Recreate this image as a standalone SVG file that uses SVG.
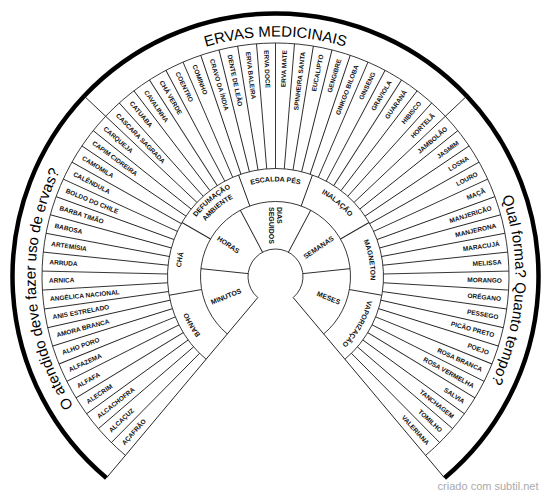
<svg xmlns="http://www.w3.org/2000/svg" xmlns:xlink="http://www.w3.org/1999/xlink" width="550" height="498" viewBox="0 0 550 498">
<style>
.ln{stroke:#222;stroke-width:0.9;fill:none}
.blk{stroke:#000;stroke-width:4.5;fill:none}
.h{font-family:"Liberation Sans",Arial,sans-serif;font-weight:bold;font-size:6.5px;fill:#111}
.e{text-anchor:end}
.m{font-family:"Liberation Sans",Arial,sans-serif;font-weight:bold;font-size:7px;fill:#111;text-anchor:middle}
.t{font-family:"Liberation Sans",Arial,sans-serif;font-weight:bold;font-size:7px;fill:#111}
.q{font-family:"Liberation Sans",Arial,sans-serif;font-size:15px;fill:#000;text-anchor:middle}
</style>
<defs>
<line id="hs" x1="383.5" y1="276.5" x2="509" y2="276.5"/>
<line id="hl" x1="383.5" y1="276.5" x2="538.5" y2="276.5"/>
<line id="ts" x1="303" y1="276.5" x2="350.5" y2="276.5"/>
<line id="ms" x1="350.5" y1="276.5" x2="383.5" y2="276.5"/>
<line id="ed" x1="303" y1="276.5" x2="538.5" y2="276.5"/>
<path id="p95" d="M214.435,349.274 A95,95 0 1 1 336.565,349.274"/>
<path id="p99" d="M211.864,352.338 A99,99 0 1 1 339.136,352.338"/>
<path id="p89" d="M218.292,344.678 A89,89 0 1 1 332.708,344.678"/>
<path id="p240" d="M121.231,460.351 A240,240 0 1 1 429.769,460.351"/>
</defs>
<rect width="550" height="498" fill="#fff"/>
<g id="rings" class="ln">
<path d="M257.823,297.566 A27.5,27.5 0 1 1 293.177,297.566"/>
<path d="M227.291,333.953 A75,75 0 1 1 323.709,333.953"/>
<path d="M206.079,359.233 A108,108 0 1 1 344.921,359.233"/>
<path d="M125.409,455.371 A233.5,233.5 0 1 1 425.591,455.371"/>
</g>
<path id="outer" class="blk" d="M106.447,477.970 A263,263 0 1 1 444.553,477.970"/>
<g id="connectors" class="ln">
<use xlink:href="#ed" transform="rotate(130 275.5 276.5)"/>
<use xlink:href="#ed" transform="rotate(50 275.5 276.5)"/>
<use xlink:href="#ts" transform="rotate(186 275.5 276.5)"/>
<use xlink:href="#ts" transform="rotate(242 275.5 276.5)"/>
<use xlink:href="#ts" transform="rotate(298 275.5 276.5)"/>
<use xlink:href="#ts" transform="rotate(354 275.5 276.5)"/>
<use xlink:href="#ms" transform="rotate(170 275.5 276.5)"/>
<use xlink:href="#ms" transform="rotate(210 275.5 276.5)"/>
<use xlink:href="#ms" transform="rotate(250 275.5 276.5)"/>
<use xlink:href="#ms" transform="rotate(290 275.5 276.5)"/>
<use xlink:href="#ms" transform="rotate(330 275.5 276.5)"/>
<use xlink:href="#ms" transform="rotate(370 275.5 276.5)"/>
<use xlink:href="#hs" transform="rotate(134.667 275.5 276.5)"/>
<use xlink:href="#hs" transform="rotate(139.333 275.5 276.5)"/>
<use xlink:href="#hs" transform="rotate(144 275.5 276.5)"/>
<use xlink:href="#hs" transform="rotate(148.667 275.5 276.5)"/>
<use xlink:href="#hs" transform="rotate(153.333 275.5 276.5)"/>
<use xlink:href="#hs" transform="rotate(158 275.5 276.5)"/>
<use xlink:href="#hs" transform="rotate(162.667 275.5 276.5)"/>
<use xlink:href="#hs" transform="rotate(167.333 275.5 276.5)"/>
<use xlink:href="#hs" transform="rotate(172 275.5 276.5)"/>
<use xlink:href="#hs" transform="rotate(176.667 275.5 276.5)"/>
<use xlink:href="#hs" transform="rotate(181.333 275.5 276.5)"/>
<use xlink:href="#hs" transform="rotate(186 275.5 276.5)"/>
<use xlink:href="#hs" transform="rotate(190.667 275.5 276.5)"/>
<use xlink:href="#hs" transform="rotate(195.333 275.5 276.5)"/>
<use xlink:href="#hs" transform="rotate(200 275.5 276.5)"/>
<use xlink:href="#hs" transform="rotate(204.667 275.5 276.5)"/>
<use xlink:href="#hs" transform="rotate(209.333 275.5 276.5)"/>
<use xlink:href="#hs" transform="rotate(214 275.5 276.5)"/>
<use xlink:href="#hs" transform="rotate(218.667 275.5 276.5)"/>
<use xlink:href="#hl" transform="rotate(223.333 275.5 276.5)"/>
<use xlink:href="#hs" transform="rotate(228 275.5 276.5)"/>
<use xlink:href="#hs" transform="rotate(232.667 275.5 276.5)"/>
<use xlink:href="#hs" transform="rotate(237.333 275.5 276.5)"/>
<use xlink:href="#hs" transform="rotate(242 275.5 276.5)"/>
<use xlink:href="#hs" transform="rotate(246.667 275.5 276.5)"/>
<use xlink:href="#hs" transform="rotate(251.333 275.5 276.5)"/>
<use xlink:href="#hs" transform="rotate(256 275.5 276.5)"/>
<use xlink:href="#hs" transform="rotate(260.667 275.5 276.5)"/>
<use xlink:href="#hs" transform="rotate(265.333 275.5 276.5)"/>
<use xlink:href="#hs" transform="rotate(270 275.5 276.5)"/>
<use xlink:href="#hs" transform="rotate(274.667 275.5 276.5)"/>
<use xlink:href="#hs" transform="rotate(279.333 275.5 276.5)"/>
<use xlink:href="#hs" transform="rotate(284 275.5 276.5)"/>
<use xlink:href="#hs" transform="rotate(288.667 275.5 276.5)"/>
<use xlink:href="#hs" transform="rotate(293.333 275.5 276.5)"/>
<use xlink:href="#hs" transform="rotate(298 275.5 276.5)"/>
<use xlink:href="#hs" transform="rotate(302.667 275.5 276.5)"/>
<use xlink:href="#hs" transform="rotate(307.333 275.5 276.5)"/>
<use xlink:href="#hs" transform="rotate(312 275.5 276.5)"/>
<use xlink:href="#hl" transform="rotate(316.667 275.5 276.5)"/>
<use xlink:href="#hs" transform="rotate(321.333 275.5 276.5)"/>
<use xlink:href="#hs" transform="rotate(326 275.5 276.5)"/>
<use xlink:href="#hs" transform="rotate(330.667 275.5 276.5)"/>
<use xlink:href="#hs" transform="rotate(335.333 275.5 276.5)"/>
<use xlink:href="#hs" transform="rotate(340 275.5 276.5)"/>
<use xlink:href="#hs" transform="rotate(344.667 275.5 276.5)"/>
<use xlink:href="#hs" transform="rotate(349.333 275.5 276.5)"/>
<use xlink:href="#hs" transform="rotate(354 275.5 276.5)"/>
<use xlink:href="#hs" transform="rotate(358.667 275.5 276.5)"/>
<use xlink:href="#hs" transform="rotate(363.333 275.5 276.5)"/>
<use xlink:href="#hs" transform="rotate(368 275.5 276.5)"/>
<use xlink:href="#hs" transform="rotate(372.667 275.5 276.5)"/>
<use xlink:href="#hs" transform="rotate(377.333 275.5 276.5)"/>
<use xlink:href="#hs" transform="rotate(382 275.5 276.5)"/>
<use xlink:href="#hs" transform="rotate(386.667 275.5 276.5)"/>
<use xlink:href="#hs" transform="rotate(391.333 275.5 276.5)"/>
<use xlink:href="#hs" transform="rotate(396 275.5 276.5)"/>
<use xlink:href="#hs" transform="rotate(400.667 275.5 276.5)"/>
<use xlink:href="#hs" transform="rotate(405.333 275.5 276.5)"/>
</g>
<g id="titles">
<text class="q"><textPath xlink:href="#p240" startOffset="16.667%">O atendido deve fazer uso de ervas?</textPath></text>
<text class="q"><textPath xlink:href="#p240" startOffset="50%">ERVAS MEDICINAIS</textPath></text>
<text class="q"><textPath xlink:href="#p240" startOffset="83.333%">Qual forma? Quanto tempo?</textPath></text>
</g>
<g id="metodos">
<text class="m"><textPath xlink:href="#p95" startOffset="7.143%">BANHO</textPath></text>
<text class="m"><textPath xlink:href="#p95" startOffset="21.429%">CHÁ</textPath></text>
<text class="m"><textPath xlink:href="#p99" startOffset="35.714%">DEFUMAÇÃO</textPath></text>
<text class="m"><textPath xlink:href="#p89" startOffset="35.714%">AMBIENTE</textPath></text>
<text class="m"><textPath xlink:href="#p95" startOffset="50%">ESCALDA PÉS</textPath></text>
<text class="m"><textPath xlink:href="#p95" startOffset="64.286%">INALAÇÃO</textPath></text>
<text class="m"><textPath xlink:href="#p95" startOffset="78.571%">MAGNETON</textPath></text>
<text class="m"><textPath xlink:href="#p95" startOffset="92.857%">VAPORIZAÇÃO</textPath></text>
</g>
<g id="tempos">
<text class="t" transform="rotate(338 275.5 276.5)" x="206" y="276.5" dy="0.35em">MINUTOS</text>
<text class="t" transform="rotate(394 275.5 276.5)" x="206" y="276.5" dy="0.35em">HORAS</text>
<text class="t" transform="rotate(450 275.5 276.5)" x="206" y="275.3">DIAS</text>
<text class="t" transform="rotate(450 275.5 276.5)" x="206" y="283.3">SEGUIDOS</text>
<text class="t e" transform="rotate(326 275.5 276.5)" x="345" y="276.5" dy="0.35em">SEMANAS</text>
<text class="t e" transform="rotate(382 275.5 276.5)" x="345" y="276.5" dy="0.35em">MESES</text>
</g>
<g id="ervas">
<text class="h" transform="rotate(312.333 275.5 276.5)" x="49" y="276.5" dy="0.35em">AÇAFRÃO</text>
<text class="h" transform="rotate(317 275.5 276.5)" x="49" y="276.5" dy="0.35em">ALCAÇUZ</text>
<text class="h" transform="rotate(321.667 275.5 276.5)" x="49" y="276.5" dy="0.35em">ALCACHOFRA</text>
<text class="h" transform="rotate(326.333 275.5 276.5)" x="49" y="276.5" dy="0.35em">ALECRIM</text>
<text class="h" transform="rotate(331 275.5 276.5)" x="49" y="276.5" dy="0.35em">ALFAFA</text>
<text class="h" transform="rotate(335.667 275.5 276.5)" x="49" y="276.5" dy="0.35em">ALFAZEMA</text>
<text class="h" transform="rotate(340.333 275.5 276.5)" x="49" y="276.5" dy="0.35em">ALHO PORO</text>
<text class="h" transform="rotate(345 275.5 276.5)" x="49" y="276.5" dy="0.35em">AMORA BRANCA</text>
<text class="h" transform="rotate(349.667 275.5 276.5)" x="49" y="276.5" dy="0.35em">ANIS ESTRELADO</text>
<text class="h" transform="rotate(354.333 275.5 276.5)" x="49" y="276.5" dy="0.35em">ANGÉLICA NACIONAL</text>
<text class="h" transform="rotate(359 275.5 276.5)" x="49" y="276.5" dy="0.35em">ARNICA</text>
<text class="h" transform="rotate(363.667 275.5 276.5)" x="49" y="276.5" dy="0.35em">ARRUDA</text>
<text class="h" transform="rotate(368.333 275.5 276.5)" x="49" y="276.5" dy="0.35em">ARTEMÍSIA</text>
<text class="h" transform="rotate(373 275.5 276.5)" x="49" y="276.5" dy="0.35em">BABOSA</text>
<text class="h" transform="rotate(377.667 275.5 276.5)" x="49" y="276.5" dy="0.35em">BARBA TIMÃO</text>
<text class="h" transform="rotate(382.333 275.5 276.5)" x="49" y="276.5" dy="0.35em">BOLDO DO CHILE</text>
<text class="h" transform="rotate(387 275.5 276.5)" x="49" y="276.5" dy="0.35em">CALÊNDULA</text>
<text class="h" transform="rotate(391.667 275.5 276.5)" x="49" y="276.5" dy="0.35em">CAMOMILA</text>
<text class="h" transform="rotate(396.333 275.5 276.5)" x="49" y="276.5" dy="0.35em">CAPIM CIDREIRA</text>
<text class="h" transform="rotate(401 275.5 276.5)" x="49" y="276.5" dy="0.35em">CARQUEJA</text>
<text class="h" transform="rotate(405.667 275.5 276.5)" x="49" y="276.5" dy="0.35em">CASCARA SAGRADA</text>
<text class="h" transform="rotate(410.333 275.5 276.5)" x="49" y="276.5" dy="0.35em">CATUABA</text>
<text class="h" transform="rotate(415 275.5 276.5)" x="49" y="276.5" dy="0.35em">CAVALINHA</text>
<text class="h" transform="rotate(419.667 275.5 276.5)" x="49" y="276.5" dy="0.35em">CHÁ VERDE</text>
<text class="h" transform="rotate(424.333 275.5 276.5)" x="49" y="276.5" dy="0.35em">COENTRO</text>
<text class="h" transform="rotate(429 275.5 276.5)" x="49" y="276.5" dy="0.35em">COMINHO</text>
<text class="h" transform="rotate(433.667 275.5 276.5)" x="49" y="276.5" dy="0.35em">CRAVO DA ÍNDIA</text>
<text class="h" transform="rotate(438.333 275.5 276.5)" x="49" y="276.5" dy="0.35em">DENTE DE LEÃO</text>
<text class="h" transform="rotate(443 275.5 276.5)" x="49" y="276.5" dy="0.35em">ERVA BALEIRA</text>
<text class="h" transform="rotate(447.667 275.5 276.5)" x="49" y="276.5" dy="0.35em">ERVA DOCE</text>
<text class="h e" transform="rotate(272.333 275.5 276.5)" x="502" y="276.5" dy="0.35em">ERVA MATE</text>
<text class="h e" transform="rotate(277 275.5 276.5)" x="502" y="276.5" dy="0.35em">SPINHEIRA SANTA</text>
<text class="h e" transform="rotate(281.667 275.5 276.5)" x="502" y="276.5" dy="0.35em">EUCALIPTO</text>
<text class="h e" transform="rotate(286.333 275.5 276.5)" x="502" y="276.5" dy="0.35em">GENGIBRE</text>
<text class="h e" transform="rotate(291 275.5 276.5)" x="502" y="276.5" dy="0.35em">GINKGO BILOBA</text>
<text class="h e" transform="rotate(295.667 275.5 276.5)" x="502" y="276.5" dy="0.35em">GINSENG</text>
<text class="h e" transform="rotate(300.333 275.5 276.5)" x="502" y="276.5" dy="0.35em">GRAVIOLA</text>
<text class="h e" transform="rotate(305 275.5 276.5)" x="502" y="276.5" dy="0.35em">GUARANÁ</text>
<text class="h e" transform="rotate(309.667 275.5 276.5)" x="502" y="276.5" dy="0.35em">HIBISCO</text>
<text class="h e" transform="rotate(314.333 275.5 276.5)" x="502" y="276.5" dy="0.35em">HORTELÃ</text>
<text class="h e" transform="rotate(319 275.5 276.5)" x="502" y="276.5" dy="0.35em">JAMBOLÃO</text>
<text class="h e" transform="rotate(323.667 275.5 276.5)" x="502" y="276.5" dy="0.35em">JASMIM</text>
<text class="h e" transform="rotate(328.333 275.5 276.5)" x="502" y="276.5" dy="0.35em">LOSNA</text>
<text class="h e" transform="rotate(333 275.5 276.5)" x="502" y="276.5" dy="0.35em">LOURO</text>
<text class="h e" transform="rotate(337.667 275.5 276.5)" x="502" y="276.5" dy="0.35em">MAÇÃ</text>
<text class="h e" transform="rotate(342.333 275.5 276.5)" x="502" y="276.5" dy="0.35em">MANJERICÃO</text>
<text class="h e" transform="rotate(347 275.5 276.5)" x="502" y="276.5" dy="0.35em">MANJERONA</text>
<text class="h e" transform="rotate(351.667 275.5 276.5)" x="502" y="276.5" dy="0.35em">MARACUJÁ</text>
<text class="h e" transform="rotate(356.333 275.5 276.5)" x="502" y="276.5" dy="0.35em">MELISSA</text>
<text class="h e" transform="rotate(361 275.5 276.5)" x="502" y="276.5" dy="0.35em">MORANGO</text>
<text class="h e" transform="rotate(365.667 275.5 276.5)" x="502" y="276.5" dy="0.35em">ORÉGANO</text>
<text class="h e" transform="rotate(370.333 275.5 276.5)" x="502" y="276.5" dy="0.35em">PESSEGO</text>
<text class="h e" transform="rotate(375 275.5 276.5)" x="502" y="276.5" dy="0.35em">PICÃO PRETO</text>
<text class="h e" transform="rotate(379.667 275.5 276.5)" x="502" y="276.5" dy="0.35em">POEJO</text>
<text class="h e" transform="rotate(384.333 275.5 276.5)" x="502" y="276.5" dy="0.35em">ROSA BRANCA</text>
<text class="h e" transform="rotate(389 275.5 276.5)" x="502" y="276.5" dy="0.35em">ROSA VERMELHA</text>
<text class="h e" transform="rotate(393.667 275.5 276.5)" x="502" y="276.5" dy="0.35em">SALVIA</text>
<text class="h e" transform="rotate(398.333 275.5 276.5)" x="502" y="276.5" dy="0.35em">TANCHAGEM</text>
<text class="h e" transform="rotate(403 275.5 276.5)" x="502" y="276.5" dy="0.35em">TOMILHO</text>
<text class="h e" transform="rotate(407.667 275.5 276.5)" x="502" y="276.5" dy="0.35em">VALERIANA</text>
</g>
<text x="538.5" y="490" font-family="Liberation Sans, Arial, sans-serif" font-size="11" fill="#aaa" text-anchor="end">criado com subtil.net</text>
</svg>
